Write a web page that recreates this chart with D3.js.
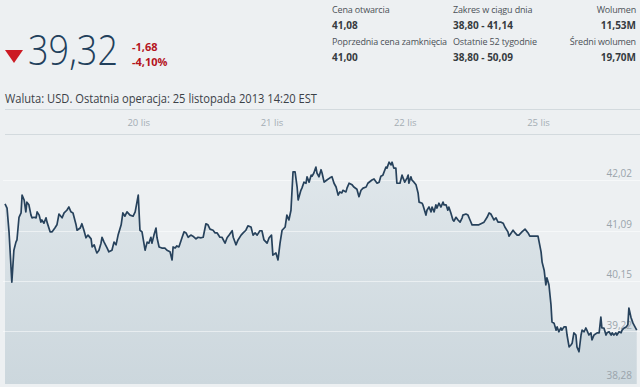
<!DOCTYPE html>
<html>
<head>
<meta charset="utf-8">
<title>Notowania</title>
<script src="https://cdn.jsdelivr.net/npm/d3@7"></script>
<style>
  body { margin: 0; background: #edf0f2; }
  svg { display: block; font-family: "Open Sans", "Noto Sans", sans-serif; }
</style>
</head>
<body>
<div id="chart"></div>
<script>
// trading days shown on the chart (first one has no label)
var days = ["19 lis", "20 lis", "21 lis", "22 lis", "25 lis"];
var minutesPerDay = 390;

// [minutes after open, price], one list per day
var nov19 = [[0,41.58],[6,41.50],[12,41.04],[20,40.13],[26,40.72],[32,40.87],[35,40.91],[41,41.33],[47,41.41],[50,41.74],[56,41.65],[61,41.43],[64,41.61],[70,41.56],[76,41.37],[79,41.32],[85,41.33],[91,41.32],[94,41.43],[100,41.37],[105,41.24],[108,41.28],[114,41.22],[120,41.32],[123,41.24],[132,41.06],[138,41.06],[146,41.13],[152,41.19],[158,41.39],[167,41.32],[173,41.41],[181,41.46],[187,41.52],[193,41.43],[199,41.41],[208,41.19],[211,41.09],[220,41.13],[225,41.21],[231,41.09],[237,40.95],[243,41.00],[252,40.93],[255,40.78],[261,40.82],[266,40.72],[269,40.67],[275,40.72],[281,40.85],[284,40.96],[290,40.87],[299,40.76],[304,40.69],[313,40.72],[319,40.87],[325,40.82],[331,41.00],[340,41.19],[345,41.41],[351,41.35],[357,41.43],[366,41.37],[375,41.35],[381,41.43]];
var nov20 = [[0,41.74],[5,41.09],[11,41.06],[20,40.72],[26,40.87],[31,40.85],[37,40.96],[40,40.85],[46,41.00],[52,41.13],[55,40.95],[61,40.78],[69,40.76],[78,40.76],[84,40.72],[93,40.69],[99,40.54],[102,40.78],[108,40.76],[113,40.80],[119,40.78],[128,40.95],[134,41.06],[140,41.04],[146,40.96],[154,41.00],[160,40.98],[169,40.93],[175,40.96],[184,40.95],[190,40.96],[198,41.21],[204,41.19],[210,41.11],[219,41.09],[225,41.04],[231,41.04],[239,40.96],[245,40.96],[254,40.85],[260,40.95],[266,41.00],[275,41.08],[278,40.96],[286,40.82],[292,40.91],[301,41.00],[307,41.04],[315,41.09],[321,41.17],[330,41.15],[336,41.00],[342,41.04],[348,41.00],[356,41.08],[362,41.08],[368,40.91],[377,40.85],[383,40.95]];
var nov21 = [[0,41.00],[4,40.63],[13,40.67],[19,40.54],[25,40.85],[31,41.09],[40,41.15],[45,41.37],[51,41.28],[57,41.46],[63,42.17],[69,42.17],[75,41.89],[78,41.65],[86,41.83],[89,41.87],[95,41.98],[101,41.96],[104,42.08],[110,41.98],[116,42.11],[119,42.09],[124,42.15],[130,42.26],[133,42.15],[139,42.08],[145,42.21],[148,42.15],[154,41.98],[162,42.02],[171,42.06],[177,42.08],[183,41.96],[189,41.89],[195,41.74],[200,41.80],[206,41.78],[209,41.83],[218,41.80],[221,41.87],[227,41.96],[236,41.93],[241,41.89],[250,41.85],[256,41.71],[262,41.83],[268,41.87],[277,41.89],[282,41.96],[294,42.02],[300,42.04],[309,41.96],[315,41.98],[320,42.09],[326,42.11],[335,42.26],[338,42.24],[344,42.35],[350,42.30],[353,42.35],[358,42.24],[364,42.24],[367,41.96],[376,41.96],[382,42.11],[385,42.06]];
var nov22 = [[0,41.98],[7,42.06],[10,42.11],[12,41.96],[18,42.08],[21,42.02],[27,41.98],[33,41.93],[39,41.78],[42,41.61],[51,41.59],[53,41.56],[62,41.37],[65,41.46],[71,41.52],[77,41.43],[80,41.52],[86,41.43],[91,41.56],[94,41.50],[100,41.59],[106,41.52],[112,41.61],[115,41.56],[121,41.56],[126,41.46],[129,41.52],[135,41.41],[141,41.28],[144,41.26],[150,41.33],[156,41.28],[162,41.24],[168,41.32],[170,41.37],[179,41.39],[185,41.37],[191,41.28],[197,41.19],[203,41.19],[211,41.19],[217,41.19],[226,41.22],[232,41.24],[241,41.33],[247,41.41],[252,41.39],[258,41.32],[261,41.28],[267,41.32],[273,41.24],[282,41.24],[288,41.22],[293,41.15],[302,41.06],[305,40.98],[314,41.06],[317,41.09],[323,41.04],[329,41.00],[334,41.00],[343,41.06],[352,41.11],[361,41.04],[366,40.98],[372,40.98],[381,40.98]];
var nov25 = [[0,40.98],[9,40.69],[12,40.50],[18,40.35],[23,40.08],[26,40.21],[32,40.08],[38,39.71],[41,39.39],[47,39.37],[53,39.24],[56,39.30],[61,39.21],[67,39.28],[70,39.24],[76,39.30],[82,39.30],[85,39.15],[91,38.93],[97,38.97],[100,39.00],[105,39.19],[111,39.15],[114,38.93],[120,38.84],[126,39.15],[129,39.24],[135,39.21],[140,39.28],[143,39.24],[149,39.15],[155,39.19],[158,39.06],[164,39.15],[173,39.19],[179,39.19],[184,39.48],[187,39.28],[193,39.28],[199,39.15],[202,39.19],[208,39.21],[214,39.15],[217,39.19],[222,39.15],[228,39.19],[231,39.15],[237,39.21],[243,39.19],[246,39.24],[252,39.28],[258,39.30],[263,39.34],[266,39.65],[272,39.48],[278,39.37],[289,39.24]];

var yTicks = [42.02, 41.085, 40.15, 39.215, 38.28];
var yTickLabels = ["42,02", "41,09", "40,15", "39,22", "38,28"];

// header texts
var lastPrice = "39,32";
var change = ["-1,68", "-4,10%"];
var infoLine = "Waluta: USD. Ostatnia operacja: 25 listopada 2013 14:20 EST";
var statLabels = ["Cena otwarcia", "Zakres w ciągu dnia", "Wolumen", "Poprzednia cena zamknięcia", "Ostatnie 52 tygodnie", "Średni wolumen"];
var statValues = ["41,08", "38,80 - 41,14", "11,53M", "41,00", "38,80 - 50,09", "19,70M"];

var W = 640, H = 387;
var svg = d3.select("#chart").append("svg")
    .attr("width", W)
    .attr("height", H);

// ---- header ----
svg.append("path")
    .attr("d", "M5,50 L23,50 L14,63 Z")
    .attr("fill", "#cc1b24");

svg.append("text")
    .attr("x", 28).attr("y", 65)
    .attr("font-size", 42)
    .attr("font-weight", 300)
    .attr("fill", "#22405c")
    .attr("textLength", 90)
    .attr("lengthAdjust", "spacingAndGlyphs")
    .text(lastPrice);

svg.selectAll(".chg")
  .data(change)
  .enter().append("text")
    .attr("class", "chg")
    .attr("x", 132)
    .attr("y", function(d, i) { return 51 + i * 15; })
    .attr("font-size", 11)
    .attr("font-weight", 700)
    .attr("fill", "#b5141d")
    .text(function(d) { return d; });

svg.append("text")
    .attr("x", 5).attr("y", 103)
    .attr("font-size", 12)
    .attr("fill", "#3b4147")
    .attr("textLength", 312)
    .attr("lengthAdjust", "spacingAndGlyphs")
    .text(infoLine);

var colX = [332, 453, 636];
var colAnchor = ["start", "start", "end"];
statLabels.forEach(function(lbl, i) {
  var c = i % 3, r = Math.floor(i / 3);
  svg.append("text")
    .attr("x", colX[c]).attr("y", 13 + r * 32)
    .attr("text-anchor", colAnchor[c])
    .attr("font-size", 9)
    .attr("letter-spacing", -0.15)
    .attr("fill", "#4b5157")
    .text(lbl);
  svg.append("text")
    .attr("x", colX[c]).attr("y", 29 + r * 32)
    .attr("text-anchor", colAnchor[c])
    .attr("font-size", 10)
    .attr("font-weight", 700)
    .attr("fill", "#363b40")
    .text(statValues[i]);
});

// ---- chart ----
var series = [];
[nov19, nov20, nov21, nov22, nov25].forEach(function(day, i) {
  day.forEach(function(d) {
    series.push({ t: i * minutesPerDay + d[0], p: d[1] });
  });
});

var x = d3.scaleLinear()
    .domain([0, days.length * minutesPerDay])
    .range([5, 5 + days.length * 133.25]);

var y = d3.scaleLinear()
    .domain([38.28, 42.02])
    .range([382, 180]);

// x axis band at the top
[109, 134].forEach(function(yy) {
  svg.append("line")
    .attr("x1", 5).attr("x2", W)
    .attr("y1", yy + 0.5).attr("y2", yy + 0.5)
    .attr("stroke", "#d3dade")
    .attr("stroke-width", 1);
});

var xAxis = d3.axisBottom(x)
    .tickValues(d3.range(1, days.length).map(function(i) { return i * minutesPerDay; }))
    .tickFormat(function(d) { return days[d / minutesPerDay]; })
    .tickSize(0);

var gx = svg.append("g")
    .attr("transform", "translate(0,116)")
    .call(xAxis);
gx.select(".domain").remove();
gx.selectAll("text")
    .attr("font-family", "'Open Sans', sans-serif")
    .attr("font-size", 9.5)
    .attr("fill", "#a4adb4");

// area fill
var grad = svg.append("defs").append("linearGradient")
    .attr("id", "fillGrad")
    .attr("x1", 0).attr("y1", 0).attr("x2", 0).attr("y2", 1);
grad.append("stop").attr("offset", "0%").attr("stop-color", "#e0e7eb");
grad.append("stop").attr("offset", "100%").attr("stop-color", "#ccd7dd");

var area = d3.area()
    .x(function(d) { return x(d.t); })
    .y0(384)
    .y1(function(d) { return y(d.p); });

svg.append("path")
    .datum(series)
    .attr("d", area)
    .attr("fill", "url(#fillGrad)");

// gridlines
svg.append("g")
  .selectAll("line")
  .data(yTicks.slice(0, 4))
  .enter().append("line")
    .attr("x1", 3).attr("x2", W)
    .attr("y1", function(d) { return Math.round(y(d)) + 0.5; })
    .attr("y2", function(d) { return Math.round(y(d)) + 0.5; })
    .attr("stroke", "#ffffff")
    .attr("stroke-opacity", 0.5);

svg.append("g")
  .selectAll("text")
  .data(yTicks)
  .enter().append("text")
    .attr("x", 632)
    .attr("y", function(d) { return y(d) - 3; })
    .attr("text-anchor", "end")
    .attr("font-size", 10)
    .attr("fill", "#9aa4ab")
    .text(function(d, i) { return yTickLabels[i]; });

// price line
var line = d3.line()
    .x(function(d) { return x(d.t); })
    .y(function(d) { return y(d.p); });

svg.append("path")
    .datum(series)
    .attr("d", line)
    .attr("fill", "none")
    .attr("stroke", "#27425c")
    .attr("stroke-width", 1.7)
    .attr("stroke-linejoin", "round");
</script>
</body>
</html>
